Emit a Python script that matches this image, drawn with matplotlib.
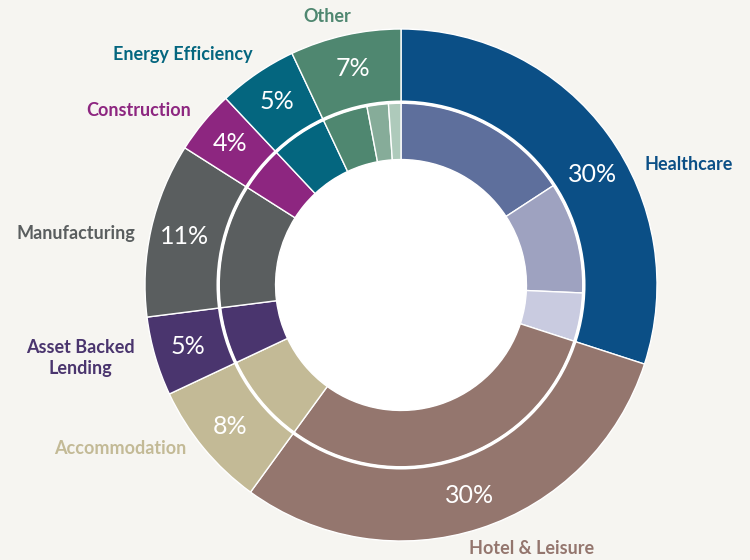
import matplotlib.pyplot as plt
import numpy as np

# outer ring: sector shares (%)
sectors = ["Healthcare", "Hotel & Leisure", "Accommodation", "Asset Backed\nLending",
           "Manufacturing", "Construction", "Energy Efficiency", "Other"]
shares = [30, 30, 8, 5, 11, 4, 5, 7]
colors = ["#0B4F86", "#94766E", "#C3BA96", "#4A356E",
          "#5A5E5F", "#8D2680", "#04667F", "#4F8770"]

# inner ring: sub-split of each sector
inner_values = [15.8, 9.9, 4.3, 30, 8, 5, 11, 4, 5, 4.0, 1.9, 1.1]
inner_colors = ["#5E6F9C", "#9EA2C0", "#C9CBE0", "#94766E", "#C3BA96", "#4A356E",
                "#5A5E5F", "#8D2680", "#04667F", "#4F8770", "#86AC99", "#AECABB"]

# label anchors (x, y, ha) in ring units, outer radius = 1
label_pos = [(0.95, 0.47, "left"), (0.51, -1.03, "center"), (-0.84, -0.64, "right"),
             (-1.254, -0.285, "center"), (-1.04, 0.20, "right"), (-0.82, 0.68, "right"),
             (-0.58, 0.90, "right"), (-0.29, 1.05, "center")]
# nudge of the % label along the ring, degrees
pct_shift = [-6, 0, 0, 0, 0, 0, 0, 0]

bg = "#F6F5F1"
fig = plt.figure(figsize=(7.5, 5.6), dpi=100, facecolor=bg)
ax = fig.add_axes([0, 0, 1, 1])
ax.set_facecolor(bg)

wedges, _ = ax.pie(shares, radius=1, colors=colors, startangle=90, counterclock=False,
                   wedgeprops=dict(width=0.285, edgecolor="white", linewidth=1))
ax.pie(inner_values, radius=0.712, colors=inner_colors, startangle=90, counterclock=False,
       wedgeprops=dict(width=0.222, edgecolor="white", linewidth=1))
ax.add_patch(plt.Circle((0, 0), 0.714, fill=False, edgecolor="white", linewidth=2.5))
ax.add_patch(plt.Circle((0, 0), 0.49, facecolor="white", edgecolor="none"))

for w, s, name, c, (lx, ly, ha), d in zip(wedges, shares, sectors, colors, label_pos, pct_shift):
    ang = np.deg2rad((w.theta1 + w.theta2) / 2 + d)
    ax.text(0.865 * np.cos(ang), 0.865 * np.sin(ang), f"{s}%", color="white",
            fontsize=18, family="Lato", ha="center", va="center")
    ax.text(lx, ly, name, color=c, fontsize=13, family="Lato", fontweight="bold",
            ha=ha, va="center", multialignment="center", linespacing=1.25)

# pie() resets the limits, so set them afterwards
cx, cy, r = 401, 285, 256
ax.set_xlim(-cx / r, (750 - cx) / r)
ax.set_ylim(-(560 - cy) / r, cy / r)
ax.set_aspect("equal")
ax.axis("off")
fig.savefig("out.png", dpi=100, facecolor=bg)
